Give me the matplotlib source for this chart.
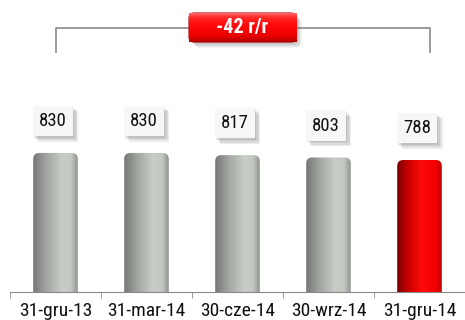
import numpy as np
import matplotlib.pyplot as plt
from matplotlib.patches import FancyBboxPatch
from matplotlib.colors import LinearSegmentedColormap
import matplotlib.patheffects as pe

# data
categories = ['31-gru-13', '31-mar-14', '30-cze-14', '30-wrz-14', '31-gru-14']
values = [830, 830, 817, 803, 788]
change_label = '-42 r/r'

plt.rcParams['font.family'] = ['Roboto Condensed', 'Archivo Narrow', 'DejaVu Sans']

fig = plt.figure(figsize=(4.65, 3.2), dpi=100)
ax = fig.add_axes([10 / 465, 28 / 320, 455 / 465, 292 / 320])

ymax = 1743
ax.set_xlim(-0.5, len(values) - 0.5)
ax.set_ylim(0, ymax)

# pixel -> data factors (for rounded corners)
px_x = 1 / 91.0
px_y = ymax / 292.0
aspect = px_y / px_x

gray_cmap = LinearSegmentedColormap.from_list(
    'cyl_gray', [(0, '#747774'), (0.3, '#a2a6a1'), (0.65, '#c9cdc7'),
                 (0.85, '#c4c8c2'), (1, '#8f938f')])
red_cmap = LinearSegmentedColormap.from_list(
    'cyl_red', [(0, '#7a0000'), (0.25, '#c80000'), (0.55, '#ff0a0a'),
                (0.85, '#f50000'), (1, '#c00000')])

# soft drop shadow built from a few faint layers
soft_shadow = [pe.SimplePatchShadow(offset=(k, -k), shadow_rgbFace='#707070', alpha=0.13)
               for k in (4, 3, 2, 1)] + [pe.Normal()]

bw = 0.49
grad = np.linspace(0, 1, 256).reshape(1, -1)
for i, v in enumerate(values):
    cmap = red_cmap if i == len(values) - 1 else gray_cmap
    clip = FancyBboxPatch((i - bw / 2, -60), bw, v + 60,
                          boxstyle='round,pad=0,rounding_size=%f' % (6 * px_x),
                          mutation_aspect=aspect, facecolor='none',
                          edgecolor='none', transform=ax.transData)
    ax.add_patch(clip)
    im = ax.imshow(grad, cmap=cmap, aspect='auto', interpolation='bicubic',
                   extent=(i - bw / 2, i + bw / 2, 0, v), zorder=2)
    im.set_clip_path(clip)

    # value label in a light box
    t = ax.annotate(str(v), (i - 0.03, v), xytext=(0, 23), textcoords='offset points',
                    ha='center', va='center', fontsize=13.5, color='#111111',
                    bbox=dict(boxstyle='square,pad=0.33', fc='#f7f7f7', ec='none'),
                    zorder=4)
    t.get_bbox_patch().set_path_effects(soft_shadow)

# bracket with the change box
y_br = ymax - 28 * px_y
y_leg = ymax - 52 * px_y
x0, x1 = 0, len(values) - 1 + 0.12
ax.plot([x0, x0, x1, x1], [y_leg, y_br, y_br, y_leg], color='#8a8a8a', lw=1.2,
        zorder=1, clip_on=False)

bx0 = (189 - 10) / 91.0 - 0.5
bx1 = (296 - 10) / 91.0 - 0.5
by0 = ymax - 42 * px_y
by1 = ymax - 13 * px_y
box = FancyBboxPatch((bx0, by0), bx1 - bx0, by1 - by0,
                     boxstyle='round,pad=0,rounding_size=%f' % (5 * px_x),
                     mutation_aspect=aspect, fc='#e00000', ec='#b00000', lw=0.8,
                     zorder=5, clip_on=False)
box.set_path_effects(soft_shadow)
ax.add_patch(box)
box_cmap = LinearSegmentedColormap.from_list(
    'box_red', [(0, '#b00000'), (0.2, '#e80000'), (0.6, '#ff0a0a'),
                (0.85, '#ff2a2a'), (1, '#ff6a6a')])
vgrad = np.linspace(0, 1, 256).reshape(-1, 1)
bim = ax.imshow(vgrad, cmap=box_cmap, aspect='auto', origin='lower',
                extent=(bx0, bx1, by0, by1), zorder=6, clip_on=False)
bim.set_clip_path(box)
ax.text((bx0 + bx1) / 2, (by0 + by1) / 2, change_label, ha='center', va='center',
        color='white', fontsize=14.5, fontweight='bold', zorder=7)

ax.set_xlim(-0.5, len(values) - 0.5)
ax.set_ylim(0, ymax)

# axis styling
for s in ['top', 'right', 'left']:
    ax.spines[s].set_visible(False)
ax.spines['bottom'].set_color('#8a8a8a')
ax.set_yticks([])
ax.set_xticks(np.arange(len(values)))
ax.set_xticklabels(categories, fontsize=14, color='#111111')
ax.set_xticks(np.arange(len(values)) - 0.5, minor=True)
ax.tick_params(axis='x', which='major', length=0, pad=7)
ax.tick_params(axis='x', which='minor', length=4, color='#8a8a8a', direction='out')

fig.savefig('out.png', dpi=100)
